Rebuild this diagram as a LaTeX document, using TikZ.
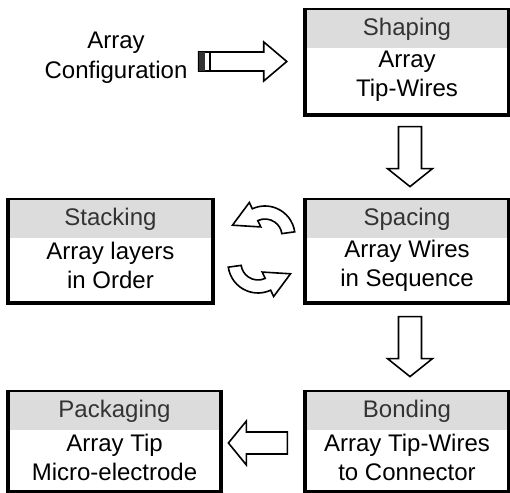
\documentclass[tikz,border=0pt]{standalone}
\usepackage{fontspec}
\setmainfont{Liberation Sans}
\usetikzlibrary{calc}
\definecolor{cHead}{HTML}{DCDCDC}
\definecolor{cHeadText}{HTML}{333333}
\tikzset{
  stepbox/.style={draw=black,line width=1.6pt,inner sep=0pt},
  stephead/.style={fill=cHead,minimum height=19pt,inner sep=0pt,anchor=north,
    text=cHeadText,font=\fontsize{12}{14}\selectfont},
  steptext/.style={align=center,inner sep=0pt,font=\fontsize{12}{14.5}\selectfont},
  fatarrow/.style={draw=black,line width=0.8pt,fill=white,line join=miter}
}
% #1 name, #2 position, #3 width, #4 height, #5 header, #6 body
\newcommand{\stepnode}[6]{%
  \node[stepbox,minimum width=#3,minimum height=#4] (#1) at (#2) {};
  \node[stephead,minimum width=#3-1.6pt] (#1H) at ([yshift=-0.8pt]#1.north) {#5};
  \node[steptext] (#1T) at ([yshift=-13.5pt]#1H.south) {#6};}
% #1 start, #2 angle, #3 length, #4 shaft half, #5 head half, #6 head length
\newcommand{\fatarrow}[6]{%
  \begin{scope}[shift={(#1)},rotate=#2]
    \draw[fatarrow] (0,-#4) -- (#3-#6,-#4) -- (#3-#6,-#5) -- (#3,0)
      -- (#3-#6,#5) -- (#3-#6,#4) -- (0,#4) -- cycle;
  \end{scope}}
\newcommand{\turnarrow}[2]{%
  \begin{scope}[shift={(#1)},rotate=#2]
    \draw[fatarrow] (8:17) -- (8:30) arc[start angle=8,end angle=115,radius=30]
      -- (115:37) -- (-32.5,10.8) -- (115:10) -- (115:17)
      arc[start angle=115,end angle=8,radius=17] -- cycle;
  \end{scope}}

\begin{document}
\begin{tikzpicture}[x=0.5pt,y=0.5pt]
  \useasboundingbox (0,0) rectangle (510,493);
  % process steps
  \stepnode{shaping}{407,430.5}{102pt}{52.5pt}{Shaping}{Array\\Tip-Wires}
  \stepnode{spacing}{407,241.5}{102pt}{51.5pt}{Spacing}{Array Wires\\in Sequence}
  \stepnode{stacking}{110.5,241.5}{102.5pt}{51.5pt}{Stacking}{Array layers\\in Order}
  \stepnode{bonding}{407,51}{102pt}{50pt}{Bonding}{Array Tip-Wires\\to Connector}
  \stepnode{packaging}{114.5,51}{106.5pt}{50pt}{Packaging}{Array Tip\\Micro-electrode}
  \node[steptext,font=\fontsize{12}{15}\selectfont] (config) at (116,435) {Array\\Configuration};
  % input arrow with striped tail
  \coordinate (a0) at ($(config.east)+(11,-3.5)$);
  \fatarrow{a0}{0}{88}{9.5}{19.5}{23}
  \fill[black!80] ($(a0)+(0,-9.5)$) rectangle ($(a0)+(6,9.5)$);
  \draw[line width=0.8pt] ($(a0)+(11,-9.5)$) -- ($(a0)+(11,9.5)$);
  % flow arrows
  \coordinate (a1) at ($(shaping.south)+(3,-10)$);
  \fatarrow{a1}{-90}{60}{11.5}{22.5}{18}
  \coordinate (a2) at ($(spacing.south)+(3,-12)$);
  \fatarrow{a2}{-90}{60}{11.5}{22.5}{18}
  \coordinate (a3) at ($(bonding.west)+(-16,-1)$);
  \fatarrow{a3}{180}{59}{11}{22}{18}
  % back and forth between spacing and stacking
  \coordinate (cyc) at ($(stacking.east)!0.5!(spacing.west)$);
  \turnarrow{$(cyc)+(6,15.5)$}{0}
  \turnarrow{$(cyc)+(-1,-11.5)$}{180}
\end{tikzpicture}
\end{document}
